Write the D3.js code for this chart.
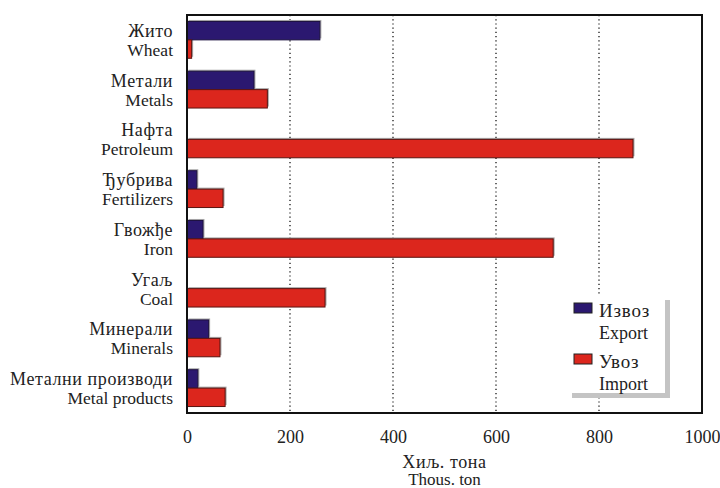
<!DOCTYPE html>
<html>
<head>
<meta charset="utf-8">
<script src="https://cdn.jsdelivr.net/npm/d3@7"></script>
<style>
  body { margin: 0; background: #fff; }
</style>
</head>
<body>
<svg id="chart"></svg>
<script>
// categories: Serbian / English
const categoriesSr = ['Жито', 'Метали', 'Нафта', 'Ђубрива', 'Гвожђе', 'Угаљ', 'Минерали', 'Метални производи'];
const categoriesEn = ['Wheat', 'Metals', 'Petroleum', 'Fertilizers', 'Iron', 'Coal', 'Minerals', 'Metal products'];
// thousand tons
const exportValues = [258, 130, 0, 19, 31, 0, 42, 21];
const importValues = [9, 156, 866, 70, 711, 268, 64, 74];
const xTicks = [0, 200, 400, 600, 800, 1000];
const seriesNames = [['Извоз', 'Export'], ['Увоз', 'Import']];

const width = 720, height = 488;
const margin = {top: 15, right: 18, bottom: 75, left: 187};
const innerW = width - margin.left - margin.right;
const innerH = height - margin.top - margin.bottom;

const colors = ['#2b1870', '#dc261d'];
const strokes = ['#1c1040', '#5a1410'];

// serif text, set on each element (latin a bit smaller, cyrillic a bit wider)
const serif = (sel, size, spacing) => sel
    .attr('font-family', 'Liberation Serif')
    .style('font-family', '"Liberation Serif", "Times New Roman", serif')
    .attr('font-size', size || 17.5)
    .attr('letter-spacing', spacing || 0)
    .attr('fill', '#222');
const cyr = sel => serif(sel, 18, 0.6);

const svg = d3.select('#chart')
    .attr('width', width)
    .attr('height', height);

const chart = svg.append('g')
    .attr('transform', `translate(${margin.left},${margin.top})`);

const xScale = d3.scaleLinear().domain([0, 1000]).range([0, innerW]);
const yScale = d3.scaleBand()
    .domain(categoriesEn)
    .range([0, innerH])
    .paddingInner(0.26)
    .paddingOuter(0.13);
const subScale = d3.scaleBand()
    .domain([0, 1])
    .range([0, yScale.bandwidth()]);

// dotted gridlines
chart.selectAll('.grid')
    .data(xTicks.slice(1, -1))
    .join('line')
    .attr('class', 'grid')
    .attr('x1', d => xScale(d)).attr('x2', d => xScale(d))
    .attr('y1', 0).attr('y2', innerH)
    .attr('stroke', '#000')
    .attr('stroke-width', 1.2)
    .attr('stroke-dasharray', '1.2,3');

const rows = categoriesEn.map((c, i) => ({
  cat: c, vals: [exportValues[i], importValues[i]]
}));

const group = chart.selectAll('.row')
    .data(rows)
    .join('g')
    .attr('class', 'row')
    .attr('transform', d => `translate(0,${yScale(d.cat)})`);

const bars = d => d.vals.map((v, s) => ({v, s})).filter(b => b.v > 0);

// light shadow edge
group.selectAll('.shadow')
    .data(bars)
    .join('rect')
    .attr('class', 'shadow')
    .attr('x', 1.5)
    .attr('y', b => subScale(b.s) - 1.5)
    .attr('width', b => xScale(b.v))
    .attr('height', subScale.bandwidth())
    .attr('fill', '#a8a8a8');

group.selectAll('.bar')
    .data(bars)
    .join('rect')
    .attr('class', 'bar')
    .attr('x', 0)
    .attr('y', b => subScale(b.s))
    .attr('width', b => xScale(b.v))
    .attr('height', subScale.bandwidth())
    .attr('fill', b => colors[b.s])
    .attr('stroke', b => strokes[b.s])
    .attr('stroke-width', 1);

// frame
chart.append('rect')
    .attr('x', 0).attr('y', 0)
    .attr('width', innerW).attr('height', innerH)
    .attr('fill', 'none')
    .attr('stroke', '#111')
    .attr('stroke-width', 2);

// category labels
const labels = chart.selectAll('.cat')
    .data(categoriesEn)
    .join('g')
    .attr('class', 'cat')
    .attr('transform', d => `translate(-14,${yScale(d) + yScale.bandwidth() / 2})`);
labels.append('text')
    .attr('text-anchor', 'end')
    .attr('y', -3)
    .call(cyr)
    .text((d, i) => categoriesSr[i]);
labels.append('text')
    .attr('text-anchor', 'end')
    .attr('y', 16)
    .call(serif)
    .text(d => d);

// x axis
const xAxis = d3.axisBottom(xScale)
    .tickValues(xTicks)
    .tickFormat(d3.format('d'))
    .tickSize(0)
    .tickPadding(17);
const xAxisG = chart.append('g')
    .attr('transform', `translate(0,${innerH})`)
    .call(xAxis);
xAxisG.select('.domain').remove();
xAxisG.selectAll('text').call(serif, 18);

chart.append('text')
    .attr('x', innerW / 2).attr('y', innerH + 55)
    .attr('text-anchor', 'middle')
    .call(cyr)
    .text('Хиљ. тона');
chart.append('text')
    .attr('x', innerW / 2).attr('y', innerH + 72)
    .attr('text-anchor', 'middle')
    .call(serif, 17)
    .text('Thous. ton');

// legend
const legend = svg.append('g').attr('transform', 'translate(567,295)');
legend.append('rect')
    .attr('x', 5).attr('y', 5).attr('width', 98).attr('height', 98)
    .attr('fill', '#c4c4c4');
legend.append('rect')
    .attr('x', 0).attr('y', 0).attr('width', 98).attr('height', 98)
    .attr('fill', '#fff');
const item = legend.selectAll('.item')
    .data(seriesNames)
    .join('g')
    .attr('class', 'item')
    .attr('transform', (d, i) => `translate(7,${8 + i * 51})`);
item.append('rect')
    .attr('width', 18).attr('height', 10)
    .attr('fill', (d, i) => colors[i])
    .attr('stroke', '#222');
item.append('text')
    .attr('x', 25).attr('y', 14)
    .call(serif, 19, 0.8)
    .text(d => d[0]);
item.append('text')
    .attr('x', 25).attr('y', 36)
    .call(serif, 18)
    .text(d => d[1]);
</script>
</body>
</html>
